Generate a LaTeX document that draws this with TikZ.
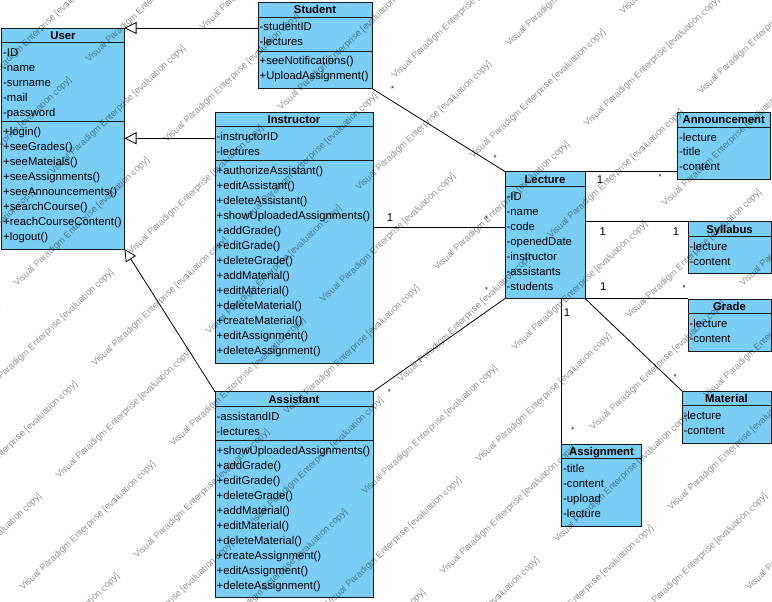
\documentclass[tikz,border=0pt]{standalone}
\usepackage{fontspec}
\setmainfont{Liberation Sans}
\usetikzlibrary{arrows.meta,calc}
\definecolor{umlblue}{RGB}{122,206,245}
\tikzset{
  classbox/.style={draw=black!90, fill=umlblue, line width=0.9pt, inner sep=0, outer sep=0},
  classtitle/.style={font=\fontsize{11.3}{13}\selectfont\bfseries, inner sep=0, anchor=base},
  member/.style={font=\fontsize{11.3}{13}\selectfont, inner sep=0, anchor=base west},
  rule/.style={draw=black!90, line width=0.9pt},
  assoc/.style={draw=black, line width=0.8pt},
  generalize/.style={assoc, -{Triangle[open, length=12pt, width=12pt]}},
  mult/.style={font=\fontsize{11.3}{13}\selectfont, inner sep=0, anchor=base},
  many/.style={font=\fontsize{7.5}{8}\selectfont, inner sep=0, anchor=base},
  watermark/.style={font=\fontsize{9.2}{10}\selectfont, text=black, text opacity=0.42,
    rotate=43.5, anchor=base west, inner sep=0},
}
% #1 name, #2 left, #3 top, #4 width, #5 title,
% #6 number of attributes, #7 attributes, #8 number of operations, #9 operations
\newcommand\umlclass[9]{%
  \ifnum#8>0 \pgfmathsetmacro\clsH{26+15*(#6+#8)}\else\pgfmathsetmacro\clsH{22+15*#6}\fi
  \node[classbox, minimum width=#4pt, minimum height=\clsH pt, anchor=north west] (#1) at (#2,#3) {};
  \node[classtitle] (#1-title) at ($(#1.north)+(0,11.5)$) {#5};
  \draw[rule] ($(#1.north west)+(0,14.5)$) -- ($(#1.north east)+(0,14.5)$);
  \foreach \t [count=\k from 0] in {#7}
    \node[member] (#1-a\k) at ($(#1.north west)+(1.5,28.5+15*\k)$) {\t};
  \ifnum#8>0
    \pgfmathsetmacro\clsS{18.5+15*#6}%
    \draw[rule] ($(#1.north west)+(0,\clsS)$) -- ($(#1.north east)+(0,\clsS)$);
    \foreach \t [count=\k from 0] in {#9}
      \node[member] (#1-m\k) at ($(#1.north west)+(1.5,\clsS+14+15*\k)$) {\t};
  \fi
}
\begin{document}
\begin{tikzpicture}[x=1pt, y=-1pt]
\useasboundingbox (0,0) rectangle (772,602);
\fill[white] (0,0) rectangle (772,602);

% classes
\umlclass{user}{1.5}{28}{123}{User}{5}{-ID,-name,-surname,-mail,-password}{8}%
  {+login(),+seeGrades(),+seeMateials(),+seeAssignments(),+seeAnnouncements(),+searchCourse(),+reachCourseContent(),+logout()}
\umlclass{student}{258}{2.5}{114}{Student}{2}{-studentID,-lectures}{2}%
  {+seeNotifications(),+UploadAssignment()}
\umlclass{instructor}{215}{112.3}{158}{Instructor}{2}{-instructorID,-lectures}{13}%
  {+authorizeAssistant(),+editAssistant(),+deleteAssistant(),+showUploadedAssignments(),+addGrade(),+editGrade(),+deleteGrade(),+addMaterial(),+editMaterial(),+deleteMaterial(),+createMaterial(),+editAssignment(),+deleteAssignment()}
\umlclass{assistant}{215}{391.7}{158}{Assistant}{2}{-assistandID,-lectures}{10}%
  {+showUploadedAssignments(),+addGrade(),+editGrade(),+deleteGrade(),+addMaterial(),+editMaterial(),+deleteMaterial(),+createAssignment(),+editAssignment(),+deleteAssignment()}
\umlclass{lecture}{505}{171.5}{80}{Lecture}{7}{-ID,-name,-code,-openedDate,-instructor,-assistants,-students}{0}{}
\umlclass{announcement}{677.5}{112.5}{92.5}{Announcement}{3}{-lecture,-title,-content}{0}{}
\umlclass{syllabus}{688}{221.5}{83}{Syllabus}{2}{-lecture,-content}{0}{}
\umlclass{grade}{688}{299.3}{83}{Grade}{2}{-lecture,-content}{0}{}
\umlclass{material}{682}{391}{89}{Material}{2}{-lecture,-content}{0}{}
\umlclass{assignment}{561.5}{444.3}{80}{Assignment}{4}{-title,-content,-upload,-lecture}{0}{}

% generalizations
\draw[generalize] (student.west |- user.north east) -- (user.north east);
\coordinate (ins-gen) at ($(instructor.north west)+(0,26)$);
\draw[generalize] (ins-gen) -- (user.east |- ins-gen);
\draw[generalize] (assistant.north west) -- (user.south east);

% associations
\draw[assoc] (student.south east) -- (lecture.north west);
\coordinate (ins-lec) at ($(lecture.north west)+(0,56)$);
\draw[assoc] (instructor.east |- ins-lec) -- (ins-lec);
\draw[assoc] (assistant.north east) -- (lecture.south west);
\draw[assoc] (lecture.north east) -- (announcement.west |- lecture.north east);
\draw[assoc] (lecture.east |- syllabus.north west) -- (syllabus.north west);
\draw[assoc] (lecture.south east) -- (grade.west |- lecture.south east);
\draw[assoc] (lecture.south east) -- (material.north west);
\draw[assoc] (assignment.north west |- lecture.south) -- (assignment.north west);

% multiplicities
\node[many] (m-st-s) at (392.7,91.3) {*};
\node[many] (m-st-l) at (495,160.7) {*};
\node[mult] (m-in-i) at (390,221.3) {1};
\node[many] (m-in-l) at (486.7,221.3) {*};
\node[many] (m-as-l) at (486.7,292.3) {*};
\node[many] (m-as-a) at (389.3,394) {*};
\node[mult] (m-an-l) at (600,183) {1};
\node[many] (m-an-a) at (660,179.7) {*};
\node[mult] (m-sy-l) at (602.7,235) {1};
\node[mult] (m-sy-s) at (676,235) {1};
\node[mult] (m-gr-l) at (603.3,290.7) {1};
\node[many] (m-gr-g) at (684,290) {*};
\node[many] (m-ma-m) at (675,379) {*};
\node[mult] (m-ag-l) at (567,316) {1};
\node[many] (m-ag-a) at (572.7,432.3) {*};

% evaluation watermark laid over the drawing
\begin{scope}
\clip (0,0) rectangle (772,602);
\foreach \i in {-3,...,9}
  \foreach \j in {-2,...,8}
    \node[watermark] (wm-\i-\j) at ({89+114*\i-36*\j},{63-32*\i+112*\j})
      {Visual Paradigm Enterprise [evaluation copy]};
\end{scope}
\end{tikzpicture}
\end{document}
